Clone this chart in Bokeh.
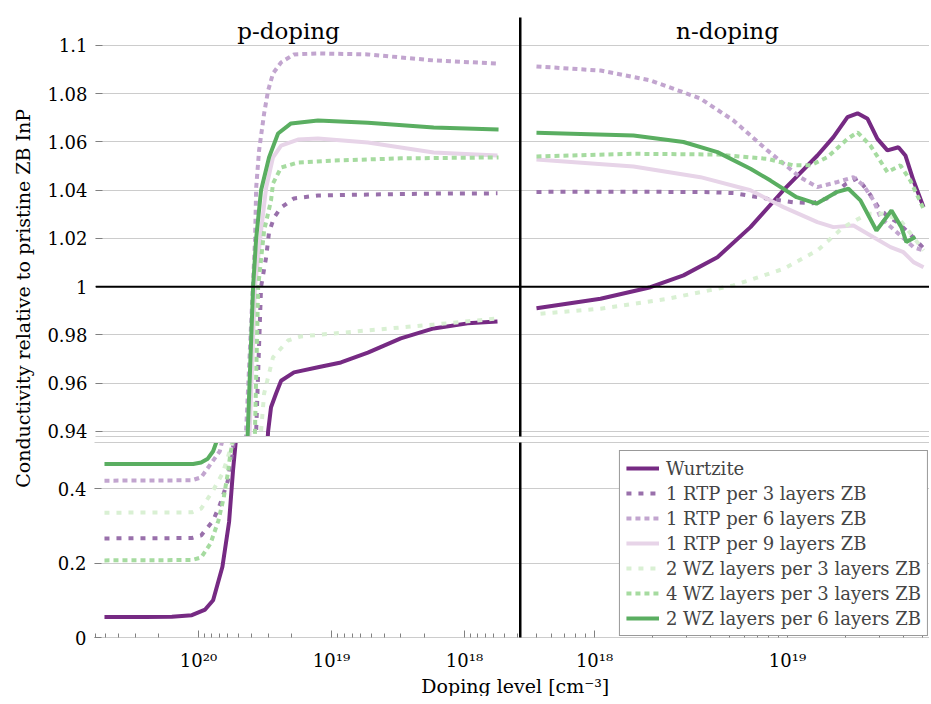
import numpy as np
from bokeh.plotting import figure
from bokeh.layouts import row, column
from bokeh.models import (Range1d, FixedTicker, CustomJSTickFormatter, LogAxis, LinearAxis,
                          Span, Label, Legend, LegendItem, Grid)
from bokeh.embed import file_html
from bokeh.resources import INLINE

# ---------------- data ----------------
series_labels = ["Wurtzite", "1 RTP per 3 layers ZB", "1 RTP per 6 layers ZB",
                 "1 RTP per 9 layers ZB", "2 WZ layers per 3 layers ZB",
                 "4 WZ layers per 3 layers ZB", "2 WZ layers per 6 layers ZB"]

# p-doping (log10 of doping level [cm^-3], conductivity relative to pristine ZB InP)
p_wurtzite_log = [20.707, 20.40, 20.20, 20.05, 19.95, 19.89, 19.82, 19.77, 19.74, 19.70, 19.60,
                  19.481, 19.459, 19.421, 19.383, 19.286, 19.105, 18.932, 18.729, 18.481, 18.233,
                  17.977, 17.752]
p_wurtzite_val = [0.055, 0.055, 0.056, 0.060, 0.075, 0.100, 0.190, 0.310, 0.450, 0.600, 0.830,
                  0.940, 0.950, 0.9557, 0.9610, 0.9645, 0.9666, 0.9686, 0.9727, 0.9786, 0.9827,
                  0.9848, 0.9856]
p_rtp3_log = [20.707, 20.05, 19.98, 19.89, 19.835, 19.78, 19.76, 19.74, 19.571, 19.534, 19.496,
              19.474, 19.436, 19.383, 19.286, 19.105, 18.729, 18.233, 17.752]
p_rtp3_val = [0.266, 0.267, 0.274, 0.314, 0.360, 0.420, 0.467, 0.510, 0.940, 1.000, 1.0121,
              1.0225, 1.0287, 1.0328, 1.0366, 1.0378, 1.0382, 1.0386, 1.0387]
p_rtp6_log = [20.707, 20.05, 19.98, 19.89, 19.84, 19.82, 19.647, 19.596, 19.579, 19.571, 19.549,
              19.511, 19.481, 19.444, 19.383, 19.286, 19.105, 18.729, 18.233, 17.752]
p_rtp6_val = [0.421, 0.422, 0.430, 0.475, 0.500, 0.530, 0.940, 1.000, 1.020, 1.041, 1.0565,
              1.0718, 1.0813, 1.0884, 1.0930, 1.0963, 1.0967, 1.0963, 1.0938, 1.0925]
p_rtp9_log = [20.707, 20.05, 19.90, 19.80, 19.62, 19.58, 19.53, 19.496, 19.444, 19.383, 19.256,
              19.105, 18.729, 18.233, 17.752]
p_rtp9_val = [0.580, 0.580, 0.620, 0.750, 0.940, 1.000, 1.025, 1.041, 1.0536, 1.0585, 1.0610,
              1.0614, 1.0598, 1.0556, 1.0544]
p_wz23_log = [20.707, 20.05, 19.98, 19.89, 19.82, 19.78, 19.74, 19.534, 19.511, 19.444, 19.331,
              19.233, 18.985, 18.729, 18.233, 17.752]
p_wz23_val = [0.335, 0.336, 0.346, 0.395, 0.440, 0.483, 0.530, 0.940, 0.9557, 0.9707, 0.9777,
              0.9794, 0.9806, 0.9819, 0.9843, 0.9868]
p_wz43_log = [20.707, 20.05, 19.98, 19.91, 19.85, 19.81, 19.78, 19.76, 19.74, 19.58, 19.556,
              19.511, 19.459, 19.444, 19.383, 19.256, 18.985, 18.481, 17.744]
p_wz43_val = [0.207, 0.208, 0.215, 0.252, 0.314, 0.376, 0.440, 0.494, 0.530, 0.940, 1.000,
              1.0233, 1.0357, 1.0428, 1.0494, 1.0515, 1.0523, 1.0532, 1.0536]
p_wz26_log = [20.707, 20.04, 19.98, 19.93, 19.89, 19.86, 19.75, 19.634, 19.594, 19.571, 19.534,
              19.474, 19.406, 19.308, 19.105, 18.729, 18.233, 17.744]
p_wz26_val = [0.466, 0.466, 0.470, 0.480, 0.500, 0.530, 0.750, 0.940, 1.000, 1.020, 1.040,
              1.0536, 1.0635, 1.0677, 1.0689, 1.0680, 1.0660, 1.0652]

# n-doping
n_wurtzite_log = [17.699, 18.031, 18.290, 18.461, 18.637, 18.808, 18.979, 19.155, 19.238, 19.311,
                  19.363, 19.415, 19.466, 19.518, 19.575, 19.611, 19.653, 19.705]
n_wurtzite_val = [0.9911, 0.9950, 0.9998, 1.0047, 1.0122, 1.0247, 1.0400, 1.0544, 1.0620, 1.0703,
                  1.0719, 1.0696, 1.0613, 1.0565, 1.0578, 1.0544, 1.0440, 1.0330]
n_rtp3_log = [17.699, 18.200, 18.600, 18.720, 18.896, 19.031, 19.130, 19.220, 19.300, 19.363,
              19.420, 19.470, 19.520, 19.570, 19.620, 19.705]
n_rtp3_val = [1.0393, 1.0394, 1.0392, 1.0388, 1.0365, 1.0350, 1.0346, 1.0370, 1.0425, 1.0450,
              1.0392, 1.0330, 1.0290, 1.0267, 1.0230, 1.0160]
n_rtp6_log = [17.699, 18.031, 18.290, 18.549, 18.720, 18.896, 19.067, 19.155, 19.259, 19.342,
              19.394, 19.446, 19.482, 19.518, 19.653, 19.705]
n_rtp6_val = [1.0913, 1.0896, 1.0855, 1.0780, 1.0689, 1.0565, 1.0453, 1.0413, 1.0434, 1.0454,
              1.0420, 1.0358, 1.0288, 1.0260, 1.0164, 1.0150]
n_rtp9_log = [17.699, 18.202, 18.549, 18.808, 18.979, 19.155, 19.238, 19.342, 19.446, 19.534,
              19.601, 19.653, 19.705]
n_rtp9_val = [1.0527, 1.0498, 1.0454, 1.0400, 1.0330, 1.0268, 1.0247, 1.0254, 1.0205, 1.0164,
              1.0143, 1.0102, 1.0081]
n_wz23_log = [17.720, 18.031, 18.378, 18.720, 18.979, 19.155, 19.290, 19.415, 19.497, 19.585,
              19.653, 19.705]
n_wz23_val = [0.9888, 0.9909, 0.9950, 1.0005, 1.0074, 1.0150, 1.0247, 1.0302, 1.0302, 1.0275,
              1.0205, 1.0150]
n_wz43_log = [17.699, 18.202, 18.637, 18.896, 19.031, 19.119, 19.207, 19.311, 19.363, 19.430,
              19.518, 19.585, 19.637, 19.705]
n_wz43_val = [1.0540, 1.0551, 1.0548, 1.0530, 1.0503, 1.0503, 1.0537, 1.0613, 1.0640, 1.0585,
              1.0475, 1.0503, 1.0440, 1.0323]
n_wz26_log = [17.699, 18.202, 18.461, 18.637, 18.808, 18.912, 19.047, 19.150, 19.254, 19.316,
              19.378, 19.461, 19.539, 19.590, 19.616, 19.663]
n_wz26_val = [1.0638, 1.0627, 1.0600, 1.0558, 1.0489, 1.0440, 1.0371, 1.0344, 1.0392, 1.0406,
              1.0358, 1.0233, 1.0316, 1.0247, 1.0185, 1.0206]

REFERENCE = 1.0
upper_y_ticks = [0.94, 0.96, 0.98, 1.0, 1.02, 1.04, 1.06, 1.08, 1.1]
lower_y_ticks = [0.0, 0.2, 0.4]
p_major_ticks = [1e18, 1e19, 1e20]
p_minor_ticks = [m * 1e17 for m in range(4, 10)] + [m * 1e18 for m in range(2, 10)] + \
                [m * 1e19 for m in range(2, 10)] + [m * 1e20 for m in range(2, 7)]
n_major_ticks = [1e18, 1e19]
n_minor_ticks = [m * 1e17 for m in range(5, 10)] + [m * 1e18 for m in range(2, 10)] + \
                [m * 1e19 for m in range(2, 6)]

# ---------------- style ----------------
FONT = "DejaVu Serif"
colors = ["#762a83", "#9970ab", "#c2a5cf", "#e7d4e8", "#d9f0d3", "#a6dba0", "#5aae61"]
dashes = ["solid", "5 7", "5 4", "solid", "5 7", "5 4", "solid"]
GRID = "#cccccc"
TICK = "#808080"

p_series = [(p_wurtzite_log, p_wurtzite_val), (p_rtp3_log, p_rtp3_val), (p_rtp6_log, p_rtp6_val),
            (p_rtp9_log, p_rtp9_val), (p_wz23_log, p_wz23_val), (p_wz43_log, p_wz43_val),
            (p_wz26_log, p_wz26_val)]
n_series = [(n_wurtzite_log, n_wurtzite_val), (n_rtp3_log, n_rtp3_val), (n_rtp6_log, n_rtp6_val),
            (n_rtp9_log, n_rtp9_val), (n_wz23_log, n_wz23_val), (n_wz43_log, n_wz43_val),
            (n_wz26_log, n_wz26_val)]

P_RANGE = (10 ** 20.782, 10 ** 17.586)   # reversed
N_RANGE = (10 ** 17.611, 10 ** 19.736)
UPPER_RANGE = (0.9379, 1.1116)
LOWER_RANGE = (0.0, 0.5235)

log_fmt = CustomJSTickFormatter(code="""
const sup = {'0':'\\u2070','1':'\\u00b9','2':'\\u00b2','3':'\\u00b3','4':'\\u2074',
             '5':'\\u2075','6':'\\u2076','7':'\\u2077','8':'\\u2078','9':'\\u2079','-':'\\u207b'};
const e = Math.round(Math.log10(tick));
return '10' + String(e).split('').map(c => sup[c]).join('');
""")
num_fmt = CustomJSTickFormatter(code="return String(parseFloat(tick.toFixed(2)));")


def base_fig(width, height, xr, yr, left, top, bottom):
    p = figure(width=width, height=height, x_range=Range1d(*xr), y_range=Range1d(*yr),
               x_axis_type="log", x_axis_location=None, y_axis_location=None,
               toolbar_location=None, output_backend="svg",
               min_border_left=left, min_border_right=0, min_border_top=top,
               min_border_bottom=bottom)
    p.center = []
    p.outline_line_color = None
    p.background_fill_color = None
    p.border_fill_color = None
    return p


def plain_axis(cls, color, width=1):
    ax = cls(ticker=FixedTicker(ticks=[]), axis_line_color=color, axis_line_width=width,
             major_tick_in=0, major_tick_out=0, minor_tick_in=0, minor_tick_out=0,
             major_label_standoff=0)
    return ax


def y_axis(ticks):
    return LinearAxis(ticker=FixedTicker(ticks=ticks), formatter=num_fmt,
                      axis_line_color=None, major_tick_in=7, major_tick_out=0,
                      major_tick_line_color=TICK, minor_tick_line_color=None,
                      major_label_standoff=8, major_label_text_font=FONT,
                      major_label_text_font_size="18px", major_label_text_color="black")


def x_axis(major, minor):
    return LogAxis(ticker=FixedTicker(ticks=major, minor_ticks=minor), formatter=log_fmt,
                   axis_line_color=GRID, major_tick_in=7, major_tick_out=0,
                   minor_tick_in=4, minor_tick_out=0, major_tick_line_color=TICK,
                   minor_tick_line_color=TICK, major_label_standoff=12,
                   major_label_text_font=FONT, major_label_text_font_size="18px",
                   major_label_text_color="black")


def add_grid(p, ticks):
    p.add_layout(Grid(dimension=1, ticker=FixedTicker(ticks=ticks), grid_line_color=GRID,
                      grid_line_width=1))


def draw(p, series):
    rs = []
    for (lx, vy), c, d in zip(series, colors, dashes):
        rs.append(p.line(10 ** np.array(lx), vy, line_color=c, line_width=4, line_dash=d))
    return rs


LEFT_W, RIGHT_W = 475, 410
UP_H, LOW_H = 442, 232

ul = base_fig(LEFT_W, UP_H, P_RANGE, UPPER_RANGE, 50, 17, 6)
ur = base_fig(RIGHT_W, UP_H, N_RANGE, UPPER_RANGE, 0, 17, 6)
ll = base_fig(LEFT_W, LOW_H, P_RANGE, LOWER_RANGE, 50, 0, 37)
lr = base_fig(RIGHT_W, LOW_H, N_RANGE, LOWER_RANGE, 0, 0, 37)

for p in (ul, ur):
    add_grid(p, upper_y_ticks)
for p in (ll, lr):
    add_grid(p, lower_y_ticks)

ul.add_layout(y_axis(upper_y_ticks), "left")
ll.add_layout(y_axis(lower_y_ticks), "left")
ur.add_layout(plain_axis(LinearAxis, "black", 4), "left")
lr.add_layout(plain_axis(LinearAxis, "black", 4), "left")
ul.add_layout(plain_axis(LogAxis, GRID), "below")
ur.add_layout(plain_axis(LogAxis, GRID), "below")
ll.add_layout(plain_axis(LogAxis, GRID), "above")
lr.add_layout(plain_axis(LogAxis, GRID), "above")
ll.add_layout(x_axis(p_major_ticks, p_minor_ticks), "below")
lr.add_layout(x_axis(n_major_ticks, n_minor_ticks), "below")

for p in (ul, ur):
    p.add_layout(Span(location=REFERENCE, dimension="width", line_color="black", line_width=2))

draw(ul, p_series)
draw(ll, p_series)
draw(ur, n_series)
lr_renderers = draw(lr, n_series)

ul.add_layout(Label(x=float(np.sqrt(P_RANGE[0] * P_RANGE[1])), y=UPPER_RANGE[1], text="p-doping",
                    text_font=FONT, text_font_size="23px", text_align="center",
                    text_baseline="top", x_offset=-19, text_color="black"))
ur.add_layout(Label(x=float(np.sqrt(N_RANGE[0] * N_RANGE[1])), y=UPPER_RANGE[1], text="n-doping",
                    text_font=FONT, text_font_size="23px", text_align="center",
                    text_baseline="top", x_offset=3, text_color="black"))

legend = Legend(items=[LegendItem(label=lab, renderers=[r])
                       for lab, r in zip(series_labels, lr_renderers)],
                location="bottom_right", margin=1, padding=6, spacing=3,
                glyph_width=33, glyph_height=22, label_height=22, label_standoff=7,
                label_text_font=FONT, label_text_font_size="18px",
                border_line_color="#333333", border_line_width=1,
                background_fill_color="white", background_fill_alpha=1.0)
lr.add_layout(legend)


def blank(width, height):
    p = figure(width=width, height=height, x_range=Range1d(0, 1), y_range=Range1d(0, 1),
               x_axis_location=None, y_axis_location=None, toolbar_location=None,
               output_backend="svg", min_border=0)
    p.center = []
    p.outline_line_color = None
    return p


ylab = blank(44, 696)
ylab.add_layout(Label(x=0.5, y=0.572, text="Conductivity relative to pristine ZB InP",
                      angle=np.pi / 2, text_font=FONT, text_font_size="19px",
                      text_align="center", text_baseline="middle", text_color="black"))
xlab = blank(885, 22)
xlab.add_layout(Label(x=0.532, y=0.5, text="Doping level [cm\u207b\u00b3]",
                      text_font=FONT, text_font_size="19px", text_align="center",
                      text_baseline="middle", text_color="black"))

layout = row(ylab, column(row(ul, ur), row(ll, lr), xlab))

with open("out.html", "w", encoding="utf-8") as f:
    f.write(file_html(layout, INLINE))
